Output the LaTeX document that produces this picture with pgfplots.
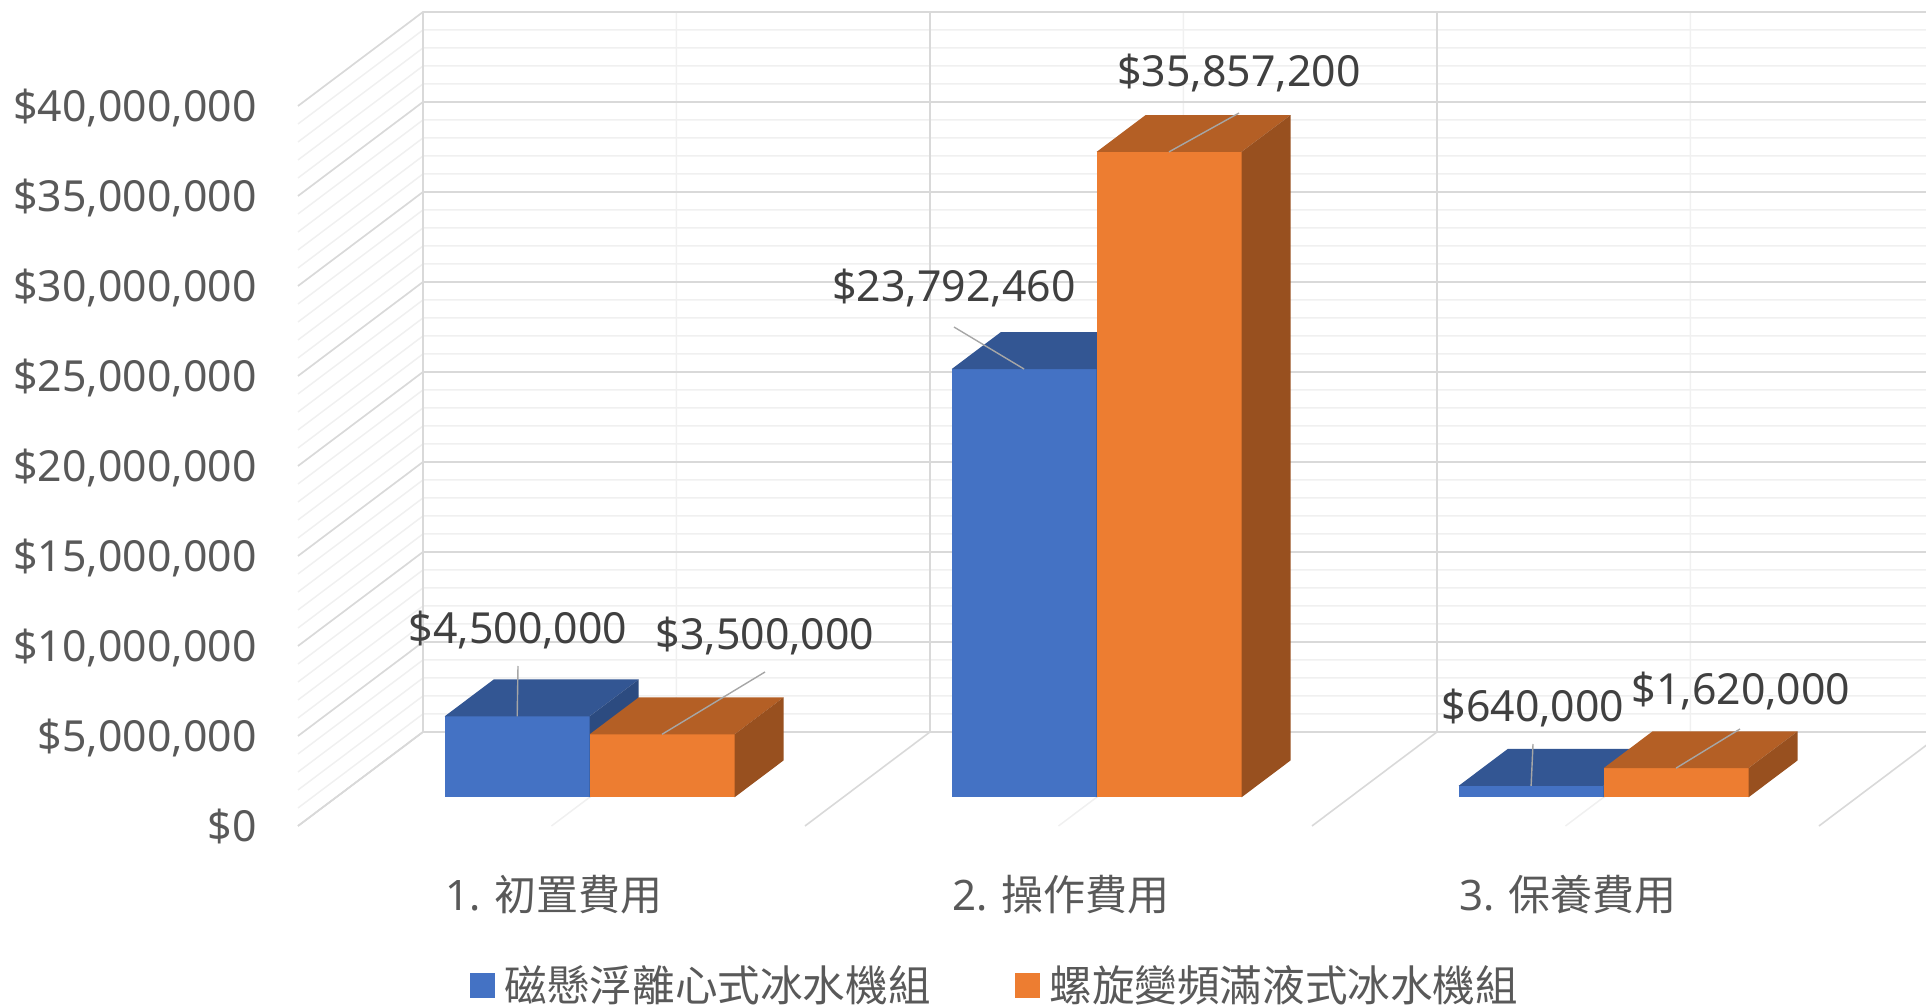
\documentclass[border=0pt]{standalone}
\usepackage{pgfplots}
\pgfplotsset{compat=1.18}
\usepackage{fontspec}
\setmainfont{Noto Sans}
\newfontfamily\cjk{Noto Sans CJK TC}
\definecolor{cblue}{HTML}{4472C4}
\definecolor{cbluetop}{HTML}{335693}
\definecolor{cblueside}{HTML}{2C4B80}
\definecolor{corange}{HTML}{ED7D31}
\definecolor{corangetop}{HTML}{B45F25}
\definecolor{corangeside}{HTML}{98501F}
\definecolor{gmaj}{HTML}{D9D9D9}
\definecolor{gmin}{HTML}{F0F0F0}
\definecolor{ticktext}{HTML}{595959}
\definecolor{labtext}{HTML}{404040}
\definecolor{leadcol}{HTML}{A6A6A6}
\newcommand{\numfont}{\fontsize{21.4bp}{25bp}\selectfont}
\newcommand{\catfont}{\fontsize{21bp}{25bp}\selectfont}
\newcommand{\legfont}{\fontsize{21.3bp}{25bp}\selectfont}
% #1 left x of front face (px), #2 value (millions), #3 front, #4 top, #5 side colour
\newcommand{\tdbar}[5]{%
  \pgfmathsetmacro\xa{#1}%
  \pgfmathsetmacro\xb{#1+144.9}%
  \pgfmathsetmacro\xc{#1+49}%
  \pgfmathsetmacro\xd{#1+144.9+49}%
  \pgfmathsetmacro\yb{#2+1.593}%
  \pgfmathsetmacro\yd{#2+3.640}%
  \edef\doit{%
    \noexpand\addplot[fill=#3,draw=none,forget plot] coordinates {(\xa,1.593) (\xb,1.593) (\xb,\yb) (\xa,\yb)};
    \noexpand\addplot[fill=#4,draw=none,forget plot] coordinates {(\xa,\yb) (\xb,\yb) (\xd,\yd) (\xc,\yd)};
    \noexpand\addplot[fill=#5,draw=none,forget plot] coordinates {(\xb,1.593) (\xb,\yb) (\xd,\yd) (\xd,3.640)};
  }\doit}
\begin{document}
\begin{tikzpicture}
\useasboundingbox (0,0) rectangle (963bp,503.5bp);
% 3-D walls and floor grid, in pixel units of the 1926 x 1007 picture
\begin{scope}[shift={(0bp,503.5bp)},x=0.5bp,y=-0.5bp]
  \foreach \v in {0,...,40}{\draw[gmin,line width=0.75bp] (298,{826-18*\v}) -- (423,{732-18*\v}) -- (1926,{732-18*\v});}
  \foreach \x in {676.5,1183.5,1690.5}{\draw[gmin,line width=0.75bp] ({\x-125},826) -- (\x,732) -- (\x,12);}
  \foreach \v in {0,5,...,40}{\draw[gmaj,line width=0.8bp] (298,{826-18*\v}) -- (423,{732-18*\v}) -- (1926,{732-18*\v});}
  \foreach \x in {423,930,1437,1944}{\draw[gmaj,line width=0.8bp] ({\x-125},826) -- (\x,732) -- (\x,12);}
\end{scope}
\begin{axis}[at={(0,0)},anchor=south west,scale only axis,
  width=963bp,height=503.5bp,
  xmin=0,xmax=1926,ymin=-10.0556,ymax=45.8889,
  hide axis,clip=false,
  legend style={at={(axis cs:999,-8.83)},anchor=center,draw=none,fill=none,
    font=\legfont,text=ticktext,legend columns=2,inner sep=0pt,
    /tikz/every even column/.append style={column sep=37bp},
    nodes={inner xsep=5bp}},
]
% values in millions of dollars
\tdbar{444.7}{4.5}{cblue}{cbluetop}{cblueside}
\tdbar{589.6}{3.5}{corange}{corangetop}{corangeside}
\tdbar{951.7}{23.79246}{cblue}{cbluetop}{cblueside}
\tdbar{1096.6}{35.8572}{corange}{corangetop}{corangeside}
\tdbar{1458.7}{0.64}{cblue}{cbluetop}{cblueside}
\tdbar{1603.6}{1.62}{corange}{corangetop}{corangeside}
% leader lines of the data labels
\addplot[leadcol,line width=0.7bp,forget plot] coordinates {(518,8.889) (517.2,6.093)};
\addplot[leadcol,line width=0.7bp,forget plot] coordinates {(765,8.556) (662.0,5.093)};
\addplot[leadcol,line width=0.7bp,forget plot] coordinates {(954,27.72) (1024.1,25.385)};
\addplot[leadcol,line width=0.7bp,forget plot] coordinates {(1239,39.61) (1169.0,37.45)};
\addplot[leadcol,line width=0.7bp,forget plot] coordinates {(1533,4.556) (1531.1,2.233)};
\addplot[leadcol,line width=0.7bp,forget plot] coordinates {(1740,5.389) (1676.0,3.213)};
% data labels
\tikzset{dlab/.style={text=labtext,font=\numfont,anchor=center,text height=15.3bp,text depth=0bp,inner ysep=0pt,inner xsep=0pt}}
\node[dlab] at (axis cs:518,11.0) {\$4,500,000};
\node[dlab] at (axis cs:765,10.667) {\$3,500,000};
\node[dlab] at (axis cs:954,30.0) {\$23,792,460};
\node[dlab] at (axis cs:1239,41.944) {\$35,857,200};
\node[dlab] at (axis cs:1533,6.667) {\$640,000};
\node[dlab] at (axis cs:1741,7.611) {\$1,620,000};
% value axis labels
\tikzset{ylab/.style={text=ticktext,font=\numfont,anchor=east,text height=15.3bp,text depth=0bp,inner ysep=0pt,inner xsep=0pt}}
\node[ylab] at (axis cs:257,0) {\$0};
\node[ylab] at (axis cs:257,5) {\$5,000,000};
\node[ylab] at (axis cs:257,10) {\$10,000,000};
\node[ylab] at (axis cs:257,15) {\$15,000,000};
\node[ylab] at (axis cs:257,20) {\$20,000,000};
\node[ylab] at (axis cs:257,25) {\$25,000,000};
\node[ylab] at (axis cs:257,30) {\$30,000,000};
\node[ylab] at (axis cs:257,35) {\$35,000,000};
\node[ylab] at (axis cs:257,40) {\$40,000,000};
% category labels
\tikzset{clab/.style={text=ticktext,font=\catfont,anchor=center,text height=16.8bp,text depth=1bp,inner sep=0pt}}
\node[clab] at (axis cs:554,-3.83) {1. {\cjk 初置費用}};
\node[clab] at (axis cs:1061,-3.83) {2. {\cjk 操作費用}};
\node[clab] at (axis cs:1568,-3.83) {3. {\cjk 保養費用}};
% legend
\addlegendimage{legend image code/.code={\fill[cblue] (0bp,-6bp) rectangle (12bp,6bp);}}
\addlegendentry{{\cjk 磁懸浮離心式冰水機組}}
\addlegendimage{legend image code/.code={\fill[corange] (0bp,-6bp) rectangle (12bp,6bp);}}
\addlegendentry{{\cjk 螺旋變頻滿液式冰水機組}}
\end{axis}
\end{tikzpicture}
\end{document}
